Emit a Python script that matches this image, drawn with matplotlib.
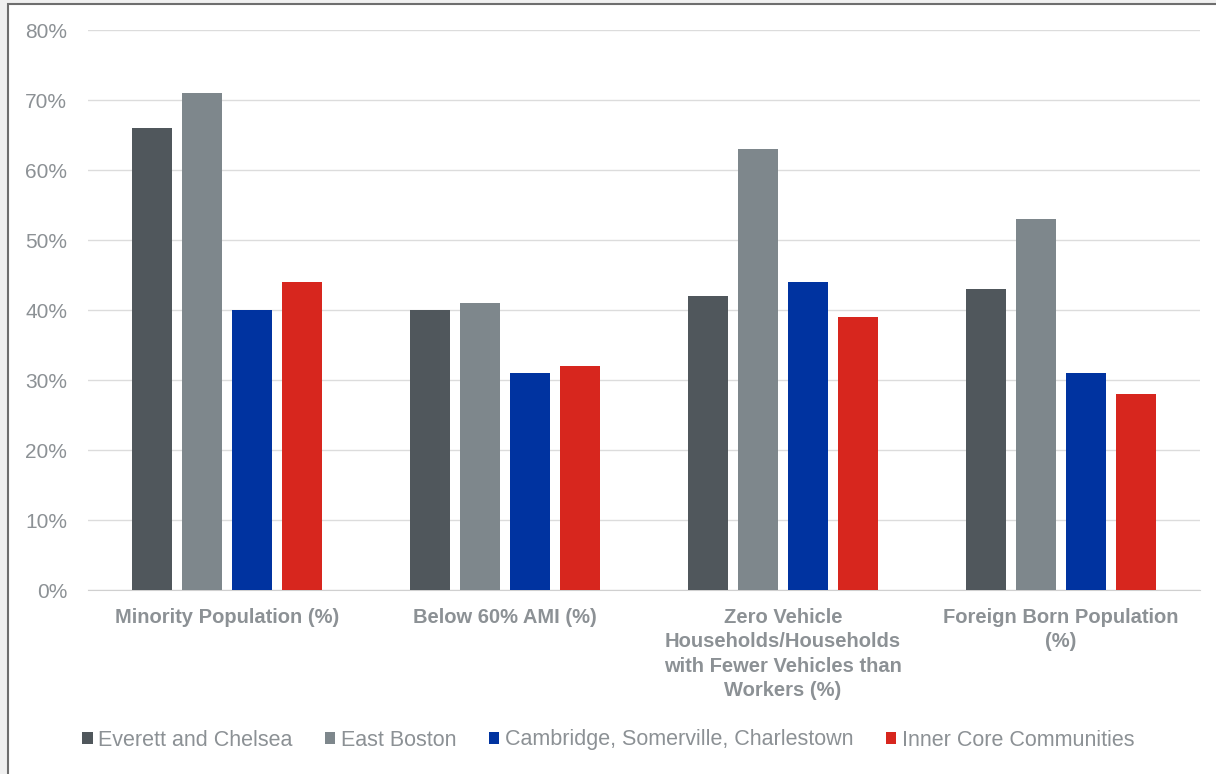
import numpy as np
import matplotlib.pyplot as plt
from matplotlib.patches import Rectangle
from matplotlib.ticker import PercentFormatter

# Data
categories = [
    "Minority Population (%)",
    "Below 60% AMI (%)",
    "Zero Vehicle\nHouseholds/Households\nwith Fewer Vehicles than\nWorkers (%)",
    "Foreign Born Population\n(%)",
]
series_names = [
    "Everett and Chelsea",
    "East Boston",
    "Cambridge, Somerville, Charlestown",
    "Inner Core Communities",
]
everett_chelsea = [66, 40, 42, 43]
east_boston = [71, 41, 63, 53]
cambridge_somerville = [40, 31, 44, 31]
inner_core = [44, 32, 39, 28]
yticks = [0, 10, 20, 30, 40, 50, 60, 70, 80]

colors = ["#50575c", "#7e878c", "#0033a0", "#d7261e"]
text_gray = "#8c9195"

plt.rcParams["font.family"] = ["Liberation Sans", "DejaVu Sans"]

fig = plt.figure(figsize=(12.16, 7.74), dpi=100, facecolor="#f0f0f0")
# white panel with gray frame
fig.patches.append(Rectangle((8 / 1216, -0.01), 1.02, 1 - 4 / 774 + 0.01,
                             transform=fig.transFigure, facecolor="white",
                             edgecolor="#6e6e6e", linewidth=1.5, zorder=-1))

ax = fig.add_axes([88 / 1216, 1 - 590 / 774, (1200 - 88) / 1216, (590 - 30) / 774])
ax.set_facecolor("none")
ax.set_zorder(1)

x = np.arange(len(categories))
width = 40 / 278
step = 50 / 278
all_series = [everett_chelsea, east_boston, cambridge_somerville, inner_core]
for i, (vals, name, c) in enumerate(zip(all_series, series_names, colors)):
    ax.bar(x + (i - 1.5) * step, vals, width, color=c, label=name, zorder=3)

ax.set_xlim(-0.5, len(categories) - 0.5)
ax.set_ylim(0, 80)
ax.set_yticks(yticks)
ax.yaxis.set_major_formatter(PercentFormatter(decimals=0))
ax.grid(axis="y", color="#dcdcdc", linewidth=1, zorder=0)
for s in ["top", "right", "left"]:
    ax.spines[s].set_visible(False)
ax.spines["bottom"].set_color("#d0d0d0")
ax.tick_params(axis="y", length=0, labelsize=15, labelcolor=text_gray, pad=15)
ax.tick_params(axis="x", length=0, pad=13)
ax.set_xticks(x)
ax.set_xticklabels(categories, fontsize=14.5, fontweight="bold", color=text_gray,
                   linespacing=1.35, va="top")

leg = fig.legend(loc="center", bbox_to_anchor=(0.5, 1 - 740 / 774), ncol=4,
                 frameon=False, fontsize=15.5, handlelength=0.5, handleheight=0.5,
                 handletextpad=0.25, columnspacing=1.5)
for t in leg.get_texts():
    t.set_color(text_gray)

fig.savefig("out.png", dpi=100, facecolor=fig.get_facecolor())
